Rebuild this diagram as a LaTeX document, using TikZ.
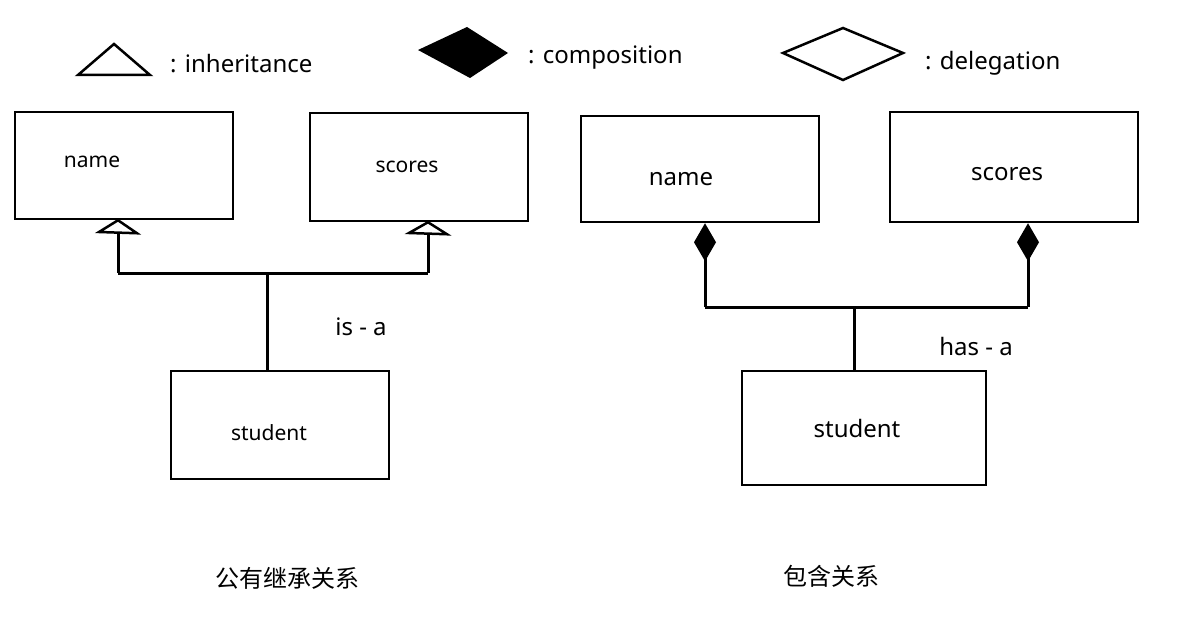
\documentclass[tikz,border=0pt]{standalone}
\usepackage{fontspec}
\setmainfont{Noto Sans}
\newfontfamily\cjk{Noto Sans CJK SC}
\usetikzlibrary{arrows.meta}
\tikzset{
  box/.style={draw, line width=2.5pt, inner sep=0pt},
  conn/.style={line width=3pt},
  tri/.style={draw, fill=white, line width=2.5pt, line join=miter},
  comp/.style={conn, -{Diamond[length=38pt, width=22pt]}},
  lbl/.style={font=\fontsize{24}{28}\selectfont, inner sep=0pt},
  sm/.style={font=\fontsize{21}{25}\selectfont, inner sep=0pt},
  captxt/.style={font=\cjk\fontsize{24}{28}\selectfont, inner sep=0pt},
  legend/.style={line width=2.5pt, line join=miter}
}
\begin{document}
\begin{tikzpicture}[x=1pt,y=-1pt]
\useasboundingbox (0,0) rectangle (1190,644);
% legend
\draw[legend] (78,75) -- (150,75) -- (114,44) -- cycle;
\node[lbl, anchor=west] (linh) at (170,64) {: inheritance};
\fill (418,50) -- (467,27) -- (508,53) -- (470,78) -- cycle;
\node[lbl, anchor=west] (lcomp) at (528,58) {: composition};
\draw[legend] (783,53) -- (843,28) -- (903,53) -- (843,80) -- cycle;
\node[lbl, anchor=west] (ldel) at (925,63) {: delegation};

% left diagram
\node[box, minimum width=218pt, minimum height=107pt] (n1) at (124,165.5) {};
\node[sm] at (92,162) {name};
\node[box, minimum width=218pt, minimum height=108pt] (s1) at (419,167) {};
\node[sm] at (407,167) {scores};
\node[box, minimum width=218pt, minimum height=108pt] (st1) at (280,425) {};
\node[sm] at (269,433) {student};
\coordinate (j1) at (267,273);
\coordinate (a1) at (118,273);
\coordinate (b1) at (428,273);
\coordinate (ta) at (118,232);
\coordinate (tb) at (428,233);
\draw[conn] (st1.north -| j1) -- (j1);
\draw[conn] (a1) -- (b1);
\draw[conn] (a1) -- (ta);
\draw[conn] (b1) -- (tb);
\draw[tri] (ta) ++(-19,0) -- (ta |- n1.south) -- ++(19,13) -- cycle;
\draw[tri] (tb) ++(-19,0) -- (tb |- s1.south) -- ++(19,12) -- cycle;
\node[lbl] (isa) at (361,327) {is - a};

% right diagram
\node[box, minimum width=238pt, minimum height=106pt] (n2) at (700,169) {};
\node[lbl] at (681,179) {name};
\node[box, minimum width=248pt, minimum height=110pt] (s2) at (1014,167) {};
\node[lbl] at (1007,174) {scores};
\node[box, minimum width=244pt, minimum height=114pt] (st2) at (864,428) {};
\node[lbl] at (857,428) {student};
\coordinate (j2) at (854,307);
\coordinate (a2) at (705,307);
\coordinate (b2) at (1028,307);
\draw[conn] (st2.north -| j2) -- (j2);
\draw[conn] (a2) -- (b2);
\draw[comp] (a2) -- (a2 |- n2.south);
\draw[comp] (b2) -- (b2 |- s2.south);
\node[lbl] (hasa) at (976,346) {has - a};

% captions
\node[captxt] (c1) at (287,578) {公有继承关系};
\node[captxt] (c2) at (831,576) {包含关系};
\end{tikzpicture}
\end{document}
